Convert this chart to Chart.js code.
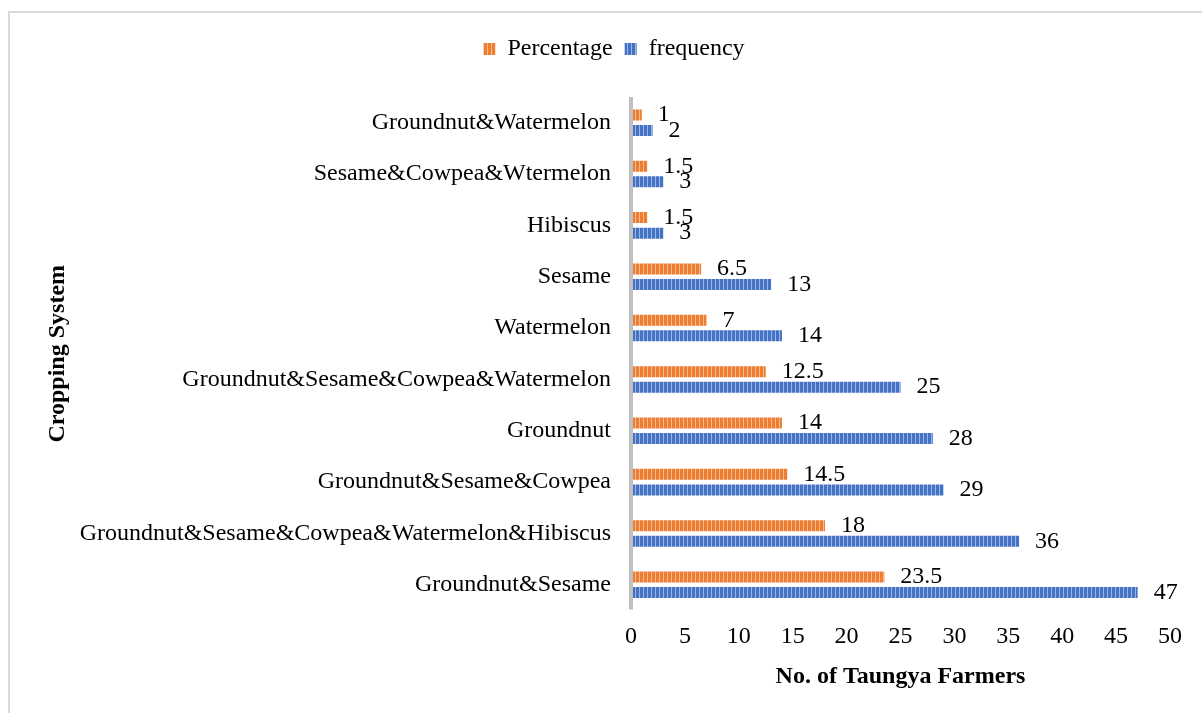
<!DOCTYPE html>
<html>
<head>
<meta charset="utf-8">
<script src="https://cdn.jsdelivr.net/npm/chart.js@4/dist/chart.umd.min.js"></script>
<style>
  html, body { margin: 0; padding: 0; background: #fff; }
  #wrap { position: relative; width: 1202px; height: 713px; overflow: hidden; }
  #frame { position: absolute; left: 8px; top: 11px; width: 1300px; height: 800px;
           border-left: 2px solid #d9d9d9; border-top: 2px solid #d9d9d9; }
  canvas { position: absolute; left: 0; top: 0; }
</style>
</head>
<body>
<div id="wrap">
  <div id="frame"></div>
  <canvas id="c" width="1202" height="713"></canvas>
</div>
<script>
const categories = [
  "Groundnut&Watermelon",
  "Sesame&Cowpea&Wtermelon",
  "Hibiscus",
  "Sesame",
  "Watermelon",
  "Groundnut&Sesame&Cowpea&Watermelon",
  "Groundnut",
  "Groundnut&Sesame&Cowpea",
  "Groundnut&Sesame&Cowpea&Watermelon&Hibiscus",
  "Groundnut&Sesame"
];
const percentage = [1, 1.5, 1.5, 6.5, 7, 12.5, 14, 14.5, 18, 23.5];
const frequency  = [2, 3, 3, 13, 14, 25, 28, 29, 36, 47];
const xTickMin = 0, xTickMax = 50, xTickStep = 5;

const FONT = "'Liberation Serif', 'Times New Roman', serif";

function stripes(dark, light) {
  const c = document.createElement('canvas');
  c.width = 4; c.height = 4;
  const g = c.getContext('2d');
  g.fillStyle = light; g.fillRect(0, 0, 4, 4);
  g.fillStyle = dark; g.fillRect(0, 0, 3, 4);
  return g.createPattern(c, 'repeat');
}
const orangePat = stripes('#ED7D31', '#F6B88E');
const bluePat = stripes('#4472C4', '#9DB5E2');

const valueLabels = {
  id: 'valueLabels',
  afterDatasetsDraw(chart) {
    const ctx = chart.ctx;
    const xs = chart.scales.x, ys = chart.scales.y;
    const x0 = xs.getPixelForValue(0);
    ctx.save();
    ctx.strokeStyle = '#BFBFBF';
    ctx.lineWidth = 4;
    ctx.beginPath();
    ctx.moveTo(x0, ys.top);
    ctx.lineTo(x0, ys.bottom - 1);
    ctx.stroke();
    ctx.font = '24px ' + FONT;
    ctx.fillStyle = '#000';
    ctx.textAlign = 'left';
    ctx.textBaseline = 'middle';
    chart.data.datasets.forEach((ds, di) => {
      const meta = chart.getDatasetMeta(di);
      meta.data.forEach((el, i) => {
        ctx.fillText(String(ds.data[i]), el.x + 16, el.y);
      });
    });
    ctx.restore();
  }
};

new Chart(document.getElementById('c'), {
  type: 'bar',
  data: {
    labels: categories,
    datasets: [
      { label: 'Percentage', data: percentage, backgroundColor: orangePat, borderWidth: 0,
        categoryPercentage: 0.605, barPercentage: 0.71 },
      { label: 'frequency', data: frequency, backgroundColor: bluePat, borderWidth: 0,
        categoryPercentage: 0.605, barPercentage: 0.71 }
    ]
  },
  options: {
    indexAxis: 'y',
    responsive: false,
    animation: false,
    devicePixelRatio: 1,
    layout: { padding: { left: 58, right: 32, top: 25, bottom: 0 } },
    plugins: {
      legend: {
        position: 'top',
        labels: {
          font: { family: FONT, size: 24 },
          color: '#000',
          boxWidth: 12, boxHeight: 12,
          padding: 12
        }
      },
      title: {
        display: true,
        text: ' ',
        position: 'top',
        weight: 500,
        color: 'rgba(0,0,0,0)',
        font: { size: 10 },
        padding: { top: 0, bottom: 14 }
      },
      tooltip: { enabled: false }
    },
    scales: {
      x: {
        min: xTickMin, max: xTickMax,
        grid: { display: false, drawTicks: false },
        border: { display: false },
        ticks: { stepSize: xTickStep, font: { family: FONT, size: 24 }, color: '#000', padding: 12 },
        title: { display: true, text: 'No. of Taungya Farmers', color: '#000',
                 font: { family: FONT, size: 24, weight: 'bold' }, padding: { top: 0, bottom: 22 } },
        afterFit(s) { s.height = 102.5; }
      },
      y: {
        grid: { display: false, drawTicks: false },
        border: { display: false },
        ticks: { font: { family: FONT, size: 24 }, color: '#000', padding: 20, autoSkip: false },
        title: { display: true, text: 'Cropping System', color: '#000',
                 font: { family: FONT, size: 24, weight: 'bold' }, padding: { top: -15, bottom: 0 } },
        afterFit(s) { s.width = 573; }
      }
    }
  },
  plugins: [valueLabels]
});
</script>
</body>
</html>
